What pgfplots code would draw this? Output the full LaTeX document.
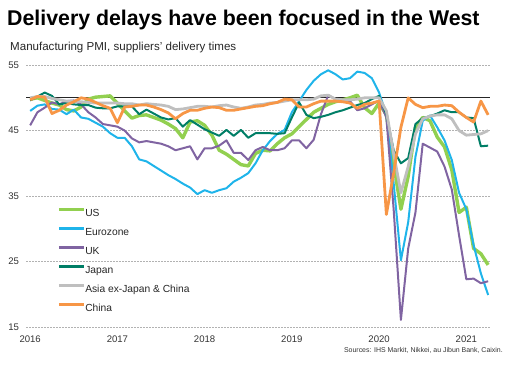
\documentclass[border=0pt]{standalone}
\usepackage{pgfplots}
\pgfplotsset{compat=1.18}
\usepackage{pgfplotstable}
\usepackage{fontspec}
\setmainfont{Liberation Sans}
\definecolor{cUS}{HTML}{92D050}
\definecolor{cEZ}{HTML}{1FB4EA}
\definecolor{cUK}{HTML}{8064A2}
\definecolor{cJP}{HTML}{007E66}
\definecolor{cAS}{HTML}{BFBFBF}
\definecolor{cCN}{HTML}{F79646}
\pgfplotstableread{
i US EZ UK JP AS CN
0 49.8 48.0 45.8 49.6 50.0 49.7
1 50.0 48.8 47.8 50.2 50.2 50.2
2 49.6 49.0 48.5 50.8 50.2 50.1
3 49.2 48.3 49.3 50.3 49.9 47.6
4 48.9 48.2 49.0 49.0 49.7 48.1
5 48.2 47.5 49.5 49.2 49.5 48.9
6 48.0 48.2 49.6 49.0 49.5 49.4
7 48.6 47.0 49.0 48.9 49.4 50.0
8 49.8 46.8 47.8 48.9 49.3 49.8
9 50.1 46.2 47.0 48.5 49.2 49.3
10 50.2 45.6 46.0 48.4 49.2 48.8
11 50.3 44.6 45.8 48.4 49.2 48.4
12 49.2 43.9 45.6 48.7 49.2 46.2
13 48.0 43.9 45.0 48.7 49.1 48.6
14 46.9 42.6 43.8 48.7 49.1 48.7
15 47.3 40.6 43.2 47.5 48.9 48.9
16 47.4 40.3 43.4 48.2 49.1 48.9
17 47.0 39.6 43.2 47.6 49.0 48.6
18 46.6 38.9 43.0 47.0 48.9 48.2
19 46.0 38.2 42.6 46.7 48.7 47.7
20 45.3 37.6 42.0 46.9 48.2 46.8
21 43.9 36.9 42.3 45.6 48.3 47.6
22 46.3 36.3 42.6 46.6 48.5 48.1
23 46.5 35.3 40.6 45.9 48.7 48.1
24 45.8 35.9 42.3 45.2 48.7 48.4
25 44.3 35.5 42.3 44.7 48.6 48.6
26 42.0 35.9 42.7 44.2 48.8 48.5
27 41.4 36.2 43.5 45.1 48.9 48.1
28 40.6 37.2 41.6 44.2 48.6 48.1
29 39.8 37.8 41.6 45.1 48.4 48.3
30 39.6 38.5 40.5 43.9 48.6 48.5
31 41.5 40.0 42.0 44.6 48.9 48.7
32 42.0 42.0 42.5 44.6 49.0 48.8
33 41.9 43.4 42.0 44.6 49.2 49.1
34 43.0 44.5 42.0 44.5 49.3 49.3
35 43.9 45.1 42.3 44.6 49.5 49.8
36 44.5 47.8 43.5 47.0 49.7 49.7
37 45.6 49.5 43.5 49.3 49.7 48.6
38 46.7 51.2 42.3 47.4 49.7 48.6
39 47.8 52.6 43.6 46.9 49.8 49.1
40 48.4 53.6 47.5 47.1 50.3 49.5
41 49.0 54.2 50.4 47.4 50.4 49.5
42 49.4 53.6 49.8 47.8 49.8 49.5
43 49.7 52.8 49.5 48.1 49.7 49.4
44 50.0 53.0 49.5 48.5 49.7 49.2
45 50.4 54.0 48.1 48.9 49.8 48.4
46 48.5 53.8 48.4 49.2 50.0 49.0
47 47.6 53.0 49.0 49.8 50.0 49.2
48 49.2 50.8 49.6 50.3 50.0 49.5
49 47.4 47.5 47.0 47.5 48.0 32.2
50 40.0 37.0 33.0 42.0 41.5 38.5
51 33.0 25.2 16.1 40.0 35.5 45.5
52 38.0 31.0 27.0 40.8 39.5 50.0
53 45.5 41.0 32.5 46.0 44.5 49.0
54 47.0 46.5 43.0 46.9 46.8 48.5
55 46.5 47.3 42.4 47.2 47.2 48.7
56 44.0 45.5 41.8 47.6 47.4 48.7
57 42.5 43.5 39.5 48.1 47.4 48.9
58 39.0 40.5 36.0 47.8 46.8 48.8
59 32.5 35.5 29.0 47.8 45.0 47.8
60 33.3 33.0 22.3 47.0 44.3 47.0
61 27.0 27.5 22.4 46.9 44.4 46.3
62 26.2 23.2 21.7 42.6 44.5 49.5
63 24.5 19.9 22.0 42.7 45.0 47.4
}\datatable
\begin{document}
\begin{tikzpicture}[x=1bp,y=1bp]
\useasboundingbox (0,0) rectangle (526,369);
\node[anchor=base west, font=\fontsize{21.4}{24}\selectfont\bfseries, inner sep=0pt] at (7,344) {Delivery delays have been focused in the West};
\node[anchor=base west, font=\fontsize{11.6}{13}\selectfont, inner sep=0pt, text=black!85] at (10,319) {Manufacturing PMI, suppliers' delivery times};
\node[anchor=base east, font=\fontsize{7}{8}\selectfont, inner sep=0pt, text=black!80] at (503,17) {Sources: IHS Markit, Nikkei, au Jibun Bank, Caixin.};
\begin{axis}[
  at={(36,64)}, anchor=south west,
  width=464bp, height=262bp, scale only axis,
  xmin=-0.55, xmax=63.28, ymin=15, ymax=55,
  axis line style={draw=none}, major tick style={draw=none},
  xtick={0,12,24,36,48,60},
  xticklabels={2016,2017,2018,2019,2020,2021},
  ytick={15,25,35,45,55},
  ymajorgrids,
  grid style={black!30, line width=0.6bp, dash pattern=on 1.5bp off 1.5bp},
  /pgf/number format/assume math mode=true,
  ticklabel style={font=\fontsize{9.6}{11}\selectfont, text=black!80},
  yticklabel style={anchor=east, inner sep=0pt, xshift=-7bp},
  xticklabel style={anchor=base, inner sep=0pt, yshift=-15bp},
  clip=false,
  legend cell align=left,
  legend style={at={(axis description cs:0.067,0.454)}, anchor=north west, draw=none, fill=none, inner sep=0pt,
    font=\fontsize{10.3}{12}\selectfont, row sep=9bp,
    nodes={inner sep=0pt, text height=8bp, text depth=2bp, text=black!85}},
  legend image code/.code={\draw[#1, line width=2.8bp] (0bp,3.5bp) -- (25bp,3.5bp);},
]
\addplot[black!85, line width=0.8bp, forget plot] coordinates {(-0.55,50) (63.28,50)};
\addplot[cUS, line width=3.4bp, line join=round] table[x=i, y=US] {\datatable};
\addlegendentry{US}
\addplot[cEZ, line width=2bp, line join=round] table[x=i, y=EZ] {\datatable};
\addlegendentry{Eurozone}
\addplot[cUK, line width=2bp, line join=round] table[x=i, y=UK] {\datatable};
\addlegendentry{UK}
\addplot[cJP, line width=2bp, line join=round] table[x=i, y=JP] {\datatable};
\addlegendentry{Japan}
\addplot[cAS, line width=2.8bp, line join=round] table[x=i, y=AS] {\datatable};
\addlegendentry{Asia ex-Japan \& China}
\addplot[cCN, line width=2.8bp, line join=round] table[x=i, y=CN] {\datatable};
\addlegendentry{China}
\end{axis}
\end{tikzpicture}
\end{document}
